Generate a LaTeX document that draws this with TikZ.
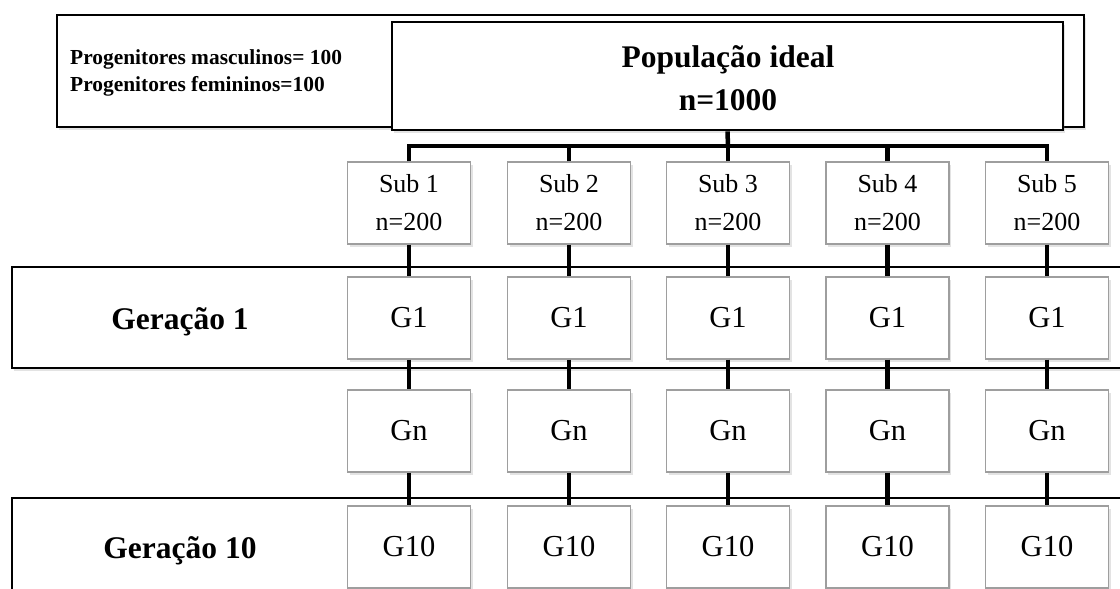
\documentclass[tikz,border=0pt]{standalone}
\usepackage{fontspec}
\setmainfont{Liberation Serif}
\usetikzlibrary{shadows}

\tikzset{
  softshadow/.style={drop shadow={opacity=0.22, shadow xshift=2pt, shadow yshift=-2.5pt}},
  cell/.style={draw=black!38, line width=1.2pt, fill=white, minimum width=123pt,
    minimum height=82pt, inner sep=0pt, softshadow, font=\fontsize{30.5}{36}\selectfont},
  subcell/.style={cell, align=center, font=\fontsize{26}{38}\selectfont},
  frame/.style={draw=black, line width=1.5pt, fill=white, softshadow},
  link/.style={line width=4.5pt, black},
  rowlabel/.style={font=\bfseries\fontsize{31.5}{38}\selectfont}
}

\begin{document}
\begin{tikzpicture}[x=1pt, y=-1pt]
\useasboundingbox (0,0) rectangle (1120,589);
\clip (0,0) rectangle (1120,589);

% header frame with the parent counts
\path[frame] (57,15) rectangle (1084,127);
\node[anchor=west, align=left, inner sep=0pt,
  font=\bfseries\fontsize{21.4}{27}\selectfont] (parents) at (70,72.5)
  {Progenitores masculinos= 100\\Progenitores femininos=100};

% ideal population box
\node[draw=black, line width=2.8pt, fill=white, softshadow, minimum width=671pt,
  minimum height=108pt, inner sep=0pt] (pop) at (727.5,76) {};
\node[align=center, inner sep=0pt, font=\bfseries\fontsize{31.5}{43}\selectfont]
  (poptext) at (728,78) {População ideal\\n=1000};

% generation bands
\path[frame] (12,267) rectangle (1140,368);
\path[frame] (12,498) rectangle (1140,640);
\node[rowlabel] (gen1) at (180,322) {Geração 1};
\node[rowlabel] (gen10) at (180,551) {Geração 10};

% subpopulation columns
\foreach \i/\x in {1/409,2/569,3/728,4/887.5,5/1047} {
  \node[subcell] (s\i) at (\x,203) {Sub \i\\n=200};
  \node[cell] (a\i) at (\x,318) {\raisebox{-2pt}{G1}};
  \node[cell] (b\i) at (\x,431) {Gn};
  \node[cell] (c\i) at (\x,547) {\raisebox{-2pt}{G10}};
}

% connectors
\coordinate (bus) at (728,146);
\draw[link] (pop.south) -- (bus);
\draw[link] (s1.north) |- (bus) -| (s5.north);
\foreach \i in {2,3,4} \draw[link] (s\i.north) -- (s\i.north |- bus);
\foreach \i in {1,...,5} {
  \draw[link] (s\i.south) -- (a\i.north);
  \draw[link] (a\i.south) -- (b\i.north);
  \draw[link] (b\i.south) -- (c\i.north);
}
\end{tikzpicture}
\end{document}
